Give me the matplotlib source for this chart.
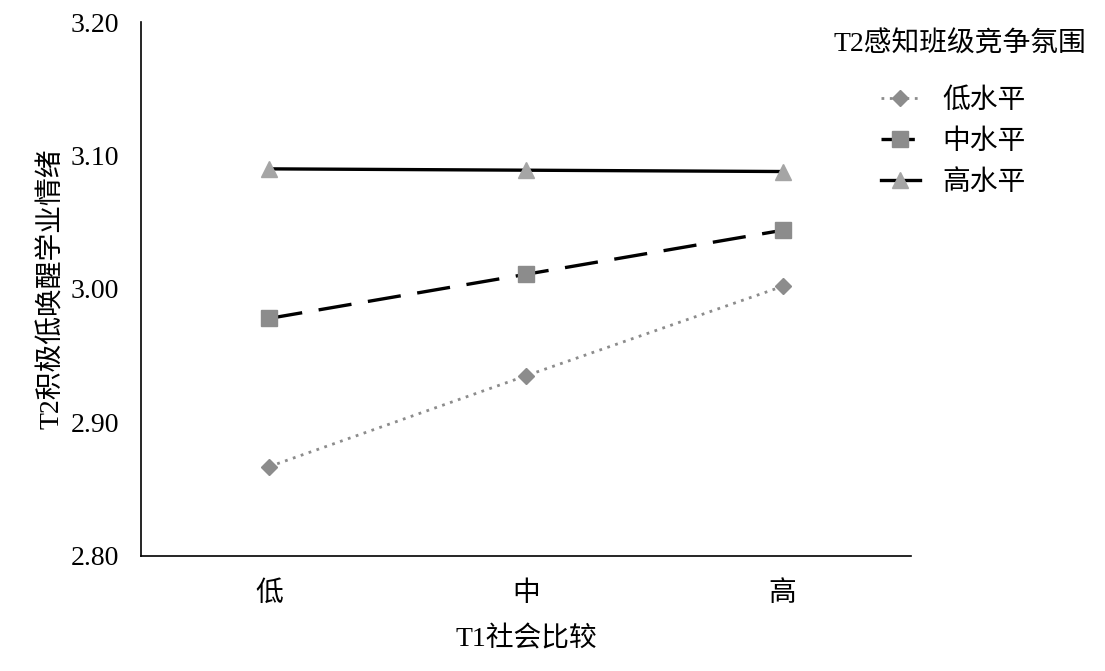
import matplotlib.pyplot as plt

plt.rcParams['font.family'] = ['Liberation Serif', 'Noto Sans CJK SC']

categories = ['低', '中', '高']
low_vals = [2.867, 2.935, 3.002]
mid_vals = [2.978, 3.011, 3.044]
high_vals = [3.090, 3.089, 3.088]
series_names = ['低水平', '中水平', '高水平']
yticks = [2.80, 2.90, 3.00, 3.10, 3.20]

fig = plt.figure(figsize=(11.05, 6.71), dpi=100)
ax = fig.add_axes([0.1276, 0.1714, 0.6968, 0.7958])

x = list(range(len(categories)))
ax.plot(x, low_vals, color='#8c8c8c', lw=2.0, ls=(0, (1, 2)),
        marker='D', ms=8, mfc='#8c8c8c', mec='#8c8c8c', label=series_names[0])
ax.plot(x, mid_vals, color='black', lw=2.4, ls=(0, (10, 5)),
        marker='s', ms=11, mfc='#8c8c8c', mec='#8c8c8c', label=series_names[1])
ax.plot(x, high_vals, color='black', lw=2.4, ls='-',
        marker='^', ms=12, mfc='#a5a5a5', mec='#a5a5a5', label=series_names[2])

ax.set_xlim(-0.5, 2.5)
ax.set_ylim(2.80, 3.20)
ax.set_xticks(x)
ax.set_xticklabels(categories)
ax.set_yticks(yticks)
ax.set_yticklabels(['%.2f' % v for v in yticks])
ax.tick_params(length=0, labelsize=20, pad=16)
ax.tick_params(axis='x', pad=18)
for s in ['top', 'right']:
    ax.spines[s].set_visible(False)
for s in ['left', 'bottom']:
    ax.spines[s].set_color('black')
    ax.spines[s].set_linewidth(1.2)

ax.set_xlabel('T1社会比较', fontsize=20, labelpad=14)
ax.set_ylabel('T2积极低唤醒学业情绪', fontsize=20, labelpad=4)

# legend title as separate text so spacing can match
fig.text(0.869, 1 - 45 / 671, 'T2感知班级竞争氛围', fontsize=20,
         ha='center', va='center')
fig.legend(*ax.get_legend_handles_labels(), loc='upper left',
           bbox_to_anchor=(0.7746, 0.906), frameon=False, fontsize=20,
           handlelength=1.4, labelspacing=0.55, handletextpad=0.8)

plt.savefig('out.png', dpi=100)
